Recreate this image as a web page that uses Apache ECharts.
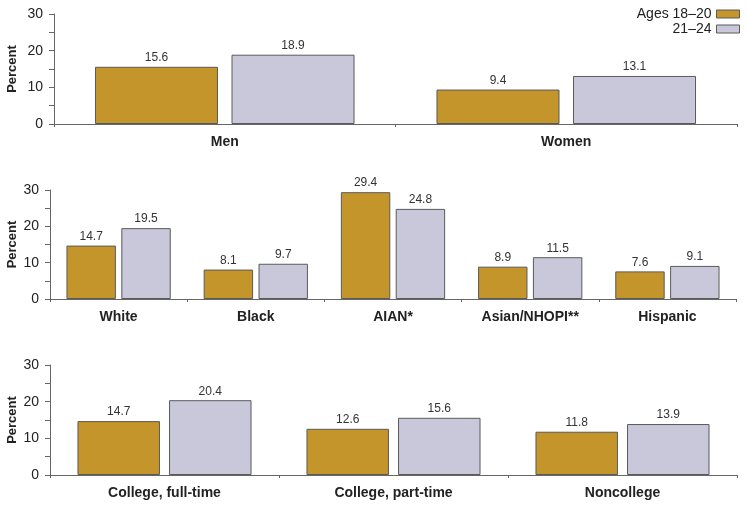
<!DOCTYPE html>
<html>
<head>
<meta charset="utf-8">
<style>
    html, body { margin: 0; padding: 0; background: #fff; }
    #chart { width: 748px; height: 508px; }
</style>
</head>
<body>
<div id="chart"></div>
<script src="https://cdn.jsdelivr.net/npm/echarts@6/dist/echarts.min.js"></script>
<script>
    // data
    var seriesNames = ['Ages 18\u201320', '21\u201324'];

    var sexCats = ['Men', 'Women'];
    var sexYoung = [15.6, 9.4];
    var sexOld = [18.9, 13.1];

    var raceCats = ['White', 'Black', 'AIAN*', 'Asian/NHOPI**', 'Hispanic'];
    var raceYoung = [14.7, 8.1, 29.4, 8.9, 7.6];
    var raceOld = [19.5, 9.7, 24.8, 11.5, 9.1];

    var schoolCats = ['College, full-time', 'College, part-time', 'Noncollege'];
    var schoolYoung = [14.7, 12.6, 11.8];
    var schoolOld = [20.4, 15.6, 13.9];

    var yTicks = [0, 10, 20, 30];

    var gold = '#c4952a', lilac = '#c8c8da', edge = '#5a5a5a';
    var font = 'Liberation Sans, Arial, sans-serif';

    function xAxis(idx, cats) {
        return {
            type: 'category', gridIndex: idx, data: cats,
            axisLine: {lineStyle: {color: '#666', width: 1}},
            axisTick: {show: true, length: 3, lineStyle: {color: '#666'}},
            axisLabel: {fontFamily: font, fontSize: 14, fontWeight: 'bold', color: '#222', margin: 11}
        };
    }

    function yAxis(idx, gap) {
        return {
            type: 'value', gridIndex: idx, min: 0, max: 30, interval: 5,
            name: 'Percent', nameLocation: 'middle', nameGap: gap, nameMoveOverlap: false,
            nameTextStyle: {fontFamily: font, fontSize: 13, fontWeight: 'bold', color: '#222'},
            axisLine: {show: true, lineStyle: {color: '#666', width: 1}},
            axisTick: {show: true, length: 5, lineStyle: {color: '#666'}},
            splitLine: {show: false},
            axisLabel: {
                fontFamily: font, fontSize: 14, color: '#222', margin: 11,
                formatter: function (v) {
                    return yTicks.indexOf(v) >= 0 ? String(v) : '';
                }
            }
        };
    }

    function bars(idx, name, data, color) {
        return {
            name: name, type: 'bar', xAxisIndex: idx, yAxisIndex: idx, data: data,
            barGap: '11%', barCategoryGap: '24%',
            itemStyle: {color: color, borderColor: edge, borderWidth: 1},
            label: {
                show: true, position: 'top', distance: 3,
                fontFamily: font, fontSize: 12, color: '#333',
                formatter: function (p) { return p.value.toFixed(1); }
            },
            emphasis: {disabled: true}
        };
    }

    var chart = echarts.init(document.getElementById('chart'), null, {renderer: 'canvas'});
    chart.setOption({
        animation: false,
        backgroundColor: '#fff',
        legend: {
            data: seriesNames, orient: 'vertical', align: 'right',
            right: 3, top: 2, itemWidth: 23, itemHeight: 8, itemGap: 1,
            icon: 'rect',
            itemStyle: {borderWidth: 1},
            textStyle: {fontFamily: font, fontSize: 14, color: '#222'}
        },
        grid: [
            {left: 54, right: 11, top: 14, height: 110, containLabel: false, outerBoundsMode: 'none'},
            {left: 50, right: 12, top: 190, height: 109, containLabel: false, outerBoundsMode: 'none'},
            {left: 50, right: 11, top: 365, height: 110, containLabel: false, outerBoundsMode: 'none'}
        ],
        xAxis: [xAxis(0, sexCats), xAxis(1, raceCats), xAxis(2, schoolCats)],
        yAxis: [yAxis(0, 35), yAxis(1, 31), yAxis(2, 31)],
        series: [
            bars(0, seriesNames[0], sexYoung, gold),
            bars(0, seriesNames[1], sexOld, lilac),
            bars(1, seriesNames[0], raceYoung, gold),
            bars(1, seriesNames[1], raceOld, lilac),
            bars(2, seriesNames[0], schoolYoung, gold),
            bars(2, seriesNames[1], schoolOld, lilac)
        ]
    });
</script>
</body>
</html>
